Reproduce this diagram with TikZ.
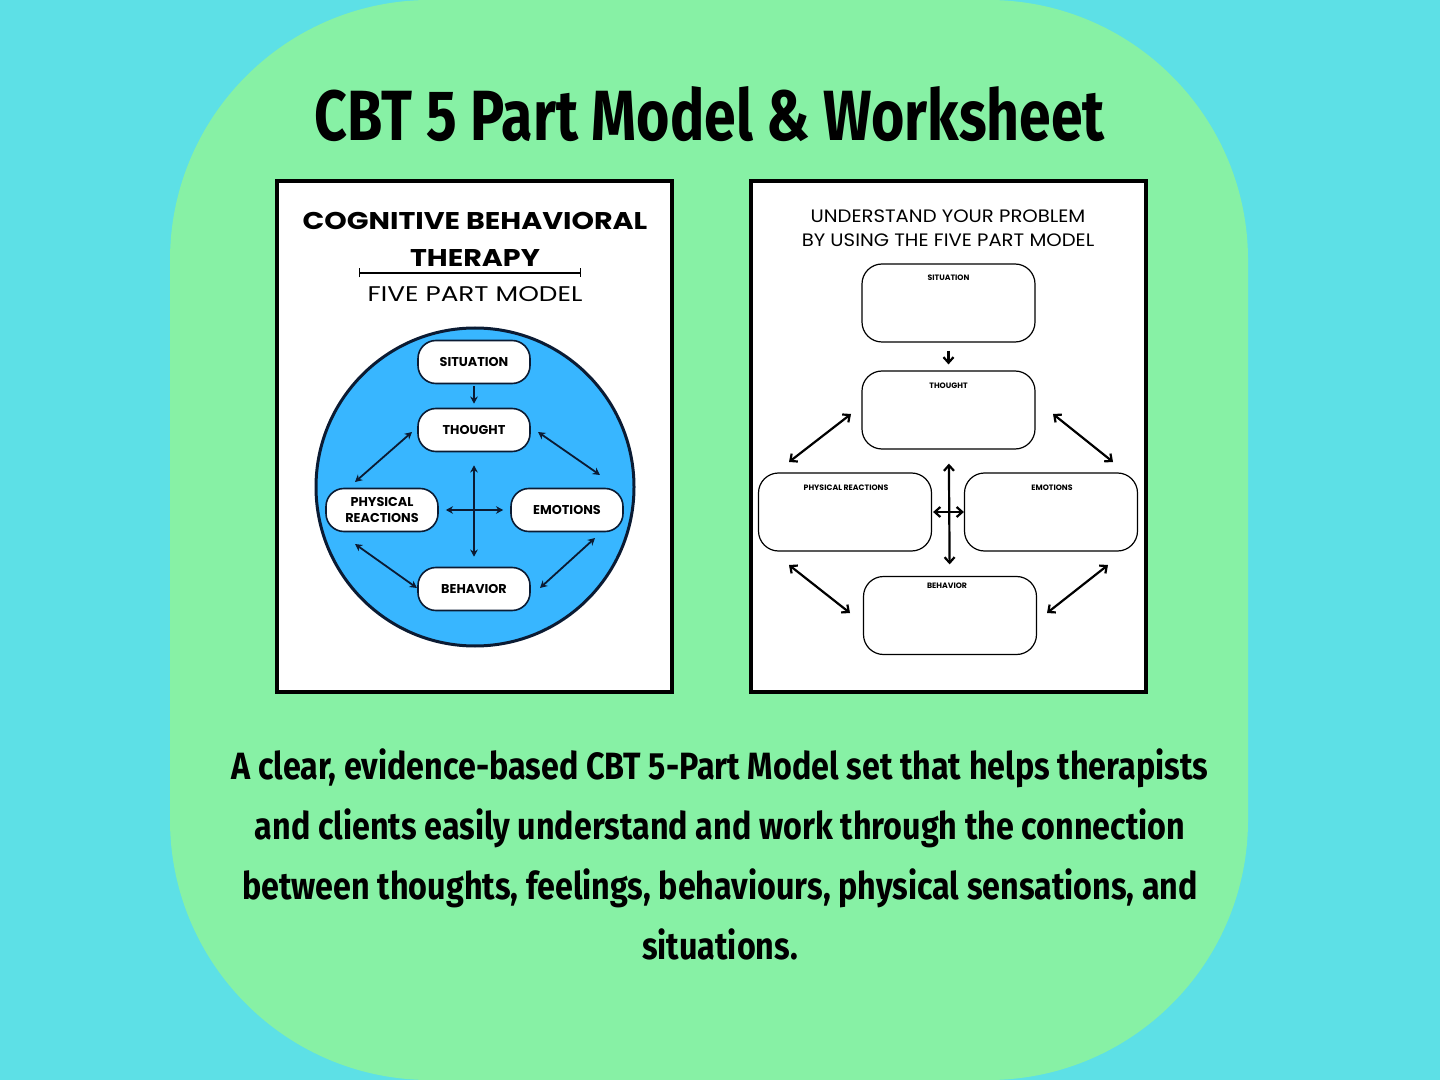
\documentclass[tikz,border=0pt]{standalone}
\usepackage{fontspec}
\usepackage{graphicx}
\setmainfont{Poppins}
\newfontfamily\hand[FakeStretch=0.85]{Fira Sans}
\newfontfamily\wideA[FakeStretch=1.18]{Poppins}
\newfontfamily\wideB[FakeStretch=1.24]{Poppins}
\newfontfamily\wideC[FakeStretch=1.09]{Poppins}
\usetikzlibrary{arrows.meta,calc}
\definecolor{bgcyan}{HTML}{5DE0E6}
\definecolor{bggreen}{HTML}{87F1A5}
\definecolor{cblue}{HTML}{38B6FF}
\definecolor{navy}{HTML}{0B1B33}
\begin{document}
\begin{tikzpicture}[x=0.5pt,y=-0.5pt,
  panel/.style={draw=black, fill=white, line width=1.8pt, inner sep=0pt},
  lbox/.style={draw=navy, fill=white, line width=0.8pt, rounded corners=9pt,
    minimum width=56pt, minimum height=21.5pt, inner sep=1pt, align=center,
    font=\bfseries\fontsize{6.4}{7.8}\selectfont},
  rbox/.style={draw=black, fill=white, line width=0.6pt, rounded corners=10pt,
    minimum width=86.5pt, minimum height=39pt, inner sep=0pt},
  rlab/.style={anchor=base, inner sep=0pt, font=\bfseries\fontsize{3.9}{4.5}\selectfont},
  larr/.style={navy, line width=0.9pt, arrows={Stealth[length=3.6pt,width=3.8pt]-Stealth[length=3.6pt,width=3.8pt]}},
  larrone/.style={navy, line width=0.9pt, arrows={-Stealth[length=3.6pt,width=3.8pt]}},
  rarr/.style={black, line width=1.1pt, arrows={Straight Barb[length=2.8pt,width=5pt]-Straight Barb[length=2.8pt,width=5pt]}},
  rarrone/.style={black, line width=1.1pt, arrows={-Straight Barb[length=2.8pt,width=5pt]}},
  body/.style={anchor=base, inner sep=0pt, font=\hand\bfseries\fontsize{19}{22}\selectfont}
]
\useasboundingbox (0,0) rectangle (1440,1080);
\fill[bgcyan] (0,0) rectangle (1440,1080);
\fill[bggreen, rounded corners=130pt] (170,0) rectangle (1248,1080);

% title
\node[anchor=base, inner sep=0pt] (title) at (710,141)
  {\resizebox{395pt}{27pt}{\hand\bfseries CBT 5 Part Model \& Worksheet}};

% ---------------- left panel ----------------
\node[panel, minimum width=197.5pt, minimum height=255.5pt] (lpanel) at (474.5,436.5) {};
\node[anchor=base, inner sep=0pt, font=\wideA\bfseries\fontsize{12.1}{14}\selectfont] (lh1) at (475,230) {COGNITIVE BEHAVIORAL};
\node[anchor=base, inner sep=0pt, font=\wideA\bfseries\fontsize{12.1}{14}\selectfont] (lh2) at (475,267) {THERAPY};
\coordinate (lbarL) at (359,273);
\coordinate (lbarR) at (581,273);
\draw[line width=0.6pt, arrows={Bar[width=4.5pt]-Bar[width=4.5pt]}] (lbarL) -- (lbarR);
\node[anchor=base, inner sep=0pt, font=\wideB\fontsize{10.6}{12}\selectfont] (lh3) at (475,302) {FIVE PART MODEL};

\node[circle, fill=cblue, draw=navy, line width=1.5pt, minimum size=159pt, inner sep=0pt] (circ) at (475,487) {};

\node[lbox] (ls) at (474,362) {SITUATION};
\node[lbox] (lt) at (474,430) {THOUGHT};
\node[lbox] (lp) at (382,510) {PHYSICAL\\REACTIONS};
\node[lbox] (le) at (567,510) {EMOTIONS};
\node[lbox] (lb) at (474,589) {BEHAVIOR};

\draw[larrone, shorten <=0.8pt, shorten >=2pt] (ls) -- (lt);
\draw[larr, shorten <=6.5pt, shorten >=5pt] (lt) -- (lb);
\draw[larr, shorten <=3.5pt, shorten >=3.5pt] (lp) -- (le);

\coordinate (la1) at (355,482); \coordinate (la2) at (412,432);
\coordinate (la3) at (538,432); \coordinate (la4) at (600,475);
\coordinate (la5) at (355,544); \coordinate (la6) at (417,588);
\coordinate (la7) at (540,588); \coordinate (la8) at (595,538);
\draw[larr] (la1) -- (la2);
\draw[larr] (la3) -- (la4);
\draw[larr] (la5) -- (la6);
\draw[larr] (la7) -- (la8);

% ---------------- right panel ----------------
\node[panel, minimum width=197.5pt, minimum height=255.5pt] (rpanel) at (948.5,436.5) {};
\node[anchor=base, inner sep=0pt, font=\wideC\fontsize{9}{11}\selectfont] (rh1) at (948,223) {UNDERSTAND YOUR PROBLEM};
\node[anchor=base, inner sep=0pt, font=\wideC\fontsize{9}{11}\selectfont] (rh2) at (948,247) {BY USING THE FIVE PART MODEL};

\node[rbox] (rs) at (948.5,303) {};
\node[rbox] (rt) at (948.5,410) {};
\node[rbox] (rp) at (845,512) {};
\node[rbox] (re) at (1051,512) {};
\node[rbox] (rb) at (950,615.5) {};

\node[rlab] (rsl) at (948.5,281) {SITUATION};
\node[rlab] (rtl) at (948.5,389) {THOUGHT};
\node[rlab] (rpl) at (846,490) {PHYSICAL REACTIONS};
\node[rlab] (rel) at (1052,490) {EMOTIONS};
\node[rlab] (rbl) at (947,588) {BEHAVIOR};

\draw[rarrone, shorten <=4pt, shorten >=3pt] (rs) -- (rt);
\draw[rarr, shorten <=7pt, shorten >=5.75pt] (rt) -- (rb);
\draw[rarr, shorten <=0.5pt, shorten >=0pt] (rp) -- (re);

\coordinate (ra1) at (789,462); \coordinate (ra2) at (851,414);
\coordinate (ra3) at (1053,414); \coordinate (ra4) at (1113,462);
\coordinate (ra5) at (789,565); \coordinate (ra6) at (850,613);
\coordinate (ra7) at (1047,613); \coordinate (ra8) at (1108,565);
\draw[rarr] (ra1) -- (ra2);
\draw[rarr] (ra3) -- (ra4);
\draw[rarr] (ra5) -- (ra6);
\draw[rarr] (ra7) -- (ra8);

% ---------------- body text ----------------
\node[body] (b1) at (720,779) {A clear, evidence-based CBT 5-Part Model set that helps therapists};
\node[body] (b2) at (720,839) {and clients easily understand and work through the connection};
\node[body] (b3) at (720,899) {between thoughts, feelings, behaviours, physical sensations, and};
\node[body] (b4) at (720,959) {situations.};
\end{tikzpicture}
\end{document}
